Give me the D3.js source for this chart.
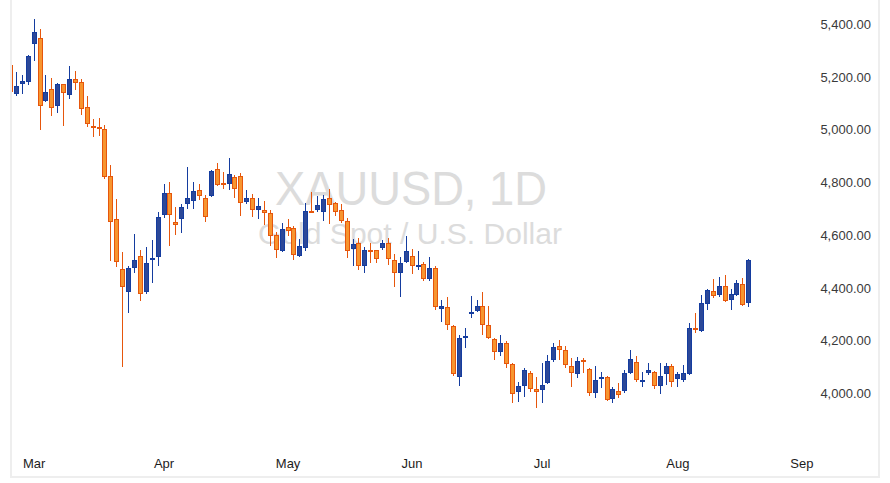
<!DOCTYPE html>
<html><head><meta charset="utf-8">
<script src="https://cdn.jsdelivr.net/npm/d3@7"></script>
<style>html,body{margin:0;padding:0;background:#fff;overflow:hidden}</style>
</head><body><svg id="c" width="890" height="483"></svg>
<script>
// ---- data ----
const dates = [
"2026-02-24","2026-02-25","2026-02-26","2026-02-27",
"2026-03-02","2026-03-03","2026-03-04","2026-03-05","2026-03-06","2026-03-09","2026-03-10","2026-03-11","2026-03-12","2026-03-13",
"2026-03-16","2026-03-17","2026-03-18","2026-03-19","2026-03-20","2026-03-23","2026-03-24","2026-03-25","2026-03-26","2026-03-27","2026-03-30","2026-03-31",
"2026-04-01","2026-04-02","2026-04-06","2026-04-07","2026-04-08","2026-04-09","2026-04-10","2026-04-13","2026-04-14","2026-04-15","2026-04-16","2026-04-17",
"2026-04-20","2026-04-21","2026-04-22","2026-04-23","2026-04-24","2026-04-27","2026-04-28","2026-04-29","2026-04-30",
"2026-05-01","2026-05-04","2026-05-05","2026-05-06","2026-05-07","2026-05-08","2026-05-11","2026-05-12","2026-05-13","2026-05-14","2026-05-15",
"2026-05-18","2026-05-19","2026-05-20","2026-05-21","2026-05-22","2026-05-25","2026-05-26","2026-05-27","2026-05-28","2026-05-29",
"2026-06-01","2026-06-02","2026-06-03","2026-06-04","2026-06-05","2026-06-08","2026-06-09","2026-06-10","2026-06-11","2026-06-12",
"2026-06-15","2026-06-16","2026-06-17","2026-06-18","2026-06-19","2026-06-22","2026-06-23","2026-06-24","2026-06-25","2026-06-26","2026-06-29","2026-06-30",
"2026-07-01","2026-07-02","2026-07-03","2026-07-06","2026-07-07","2026-07-08","2026-07-09","2026-07-10","2026-07-13","2026-07-14","2026-07-15","2026-07-16","2026-07-17",
"2026-07-20","2026-07-21","2026-07-22","2026-07-23","2026-07-24","2026-07-27","2026-07-28","2026-07-29","2026-07-30","2026-07-31",
"2026-08-03","2026-08-04","2026-08-05","2026-08-06","2026-08-07","2026-08-10","2026-08-11","2026-08-12","2026-08-13","2026-08-14","2026-08-17","2026-08-18","2026-08-19"
];
// empty future trading-day slots on the time axis (no candles)
const futureDates = ["2026-08-20","2026-08-21","2026-08-24","2026-08-25","2026-08-26","2026-08-27","2026-08-28","2026-08-31","2026-09-01"];

const open = [5244,5133,5171,5181,
5323,5346,5107,5152,5088,5171,5129,5190,5179,5084,
5012,5008,5000,4822,4659,4469,4382,4473,4519,4384,4509,4515,
4674,4758,4648,4659,4716,4727,4769,4739,4746,4849,4796,4792,
4818,4822,4724,4739,4693,4693,4682,4598,4538,
4629,4625,4519,4549,4690,4693,4686,4739,4720,4693,4651,
4545,4568,4481,4542,4541,4549,4568,4503,4454,4496,
4519,4481,4488,4431,4473,4318,4325,4253,4060,4207,
4299,4310,4329,4257,4204,4155,4189,4109,4003,4025,4075,4014,
4010,4037,4124,4177,4162,4101,4071,4124,4090,3999,4052,4060,3976,
4006,4006,4075,4117,4044,4075,4079,4025,4071,4101,
4052,4048,4071,4245,4234,4337,4386,4371,4405,4352,4371,4412,4340];
const high = [5250,5218,5207,5282,
5419,5381,5207,5195,5176,5173,5241,5222,5190,5126,
5038,5042,5017,4865,4736,4535,4482,4603,4541,4554,4580,4686,
4793,4801,4704,4716,4856,4801,4793,4750,4845,4871,4837,4890,
4826,4833,4769,4754,4739,4727,4693,4610,4644,
4659,4633,4583,4720,4761,4746,4750,4773,4724,4716,4663,
4583,4587,4553,4568,4543,4579,4587,4526,4515,4595,
4545,4538,4496,4515,4481,4352,4363,4257,4219,4245,
4367,4352,4382,4329,4208,4219,4196,4113,4042,4094,4082,4060,
4113,4143,4189,4200,4177,4132,4136,4132,4094,4101,4079,4063,4022,
4037,4086,4162,4139,4079,4113,4082,4113,4113,4109,
4079,4105,4264,4302,4371,4393,4431,4439,4447,4393,4428,4435,4507];
const low = [5140,5128,5133,5170,
5261,4999,5104,5051,5063,5014,5117,5151,5056,5010,
4970,4976,4811,4502,4479,4100,4305,4456,4350,4377,4418,4483,
4663,4557,4601,4608,4699,4699,4731,4648,4743,4784,4773,4769,
4739,4670,4716,4667,4659,4636,4557,4511,4534,
4595,4504,4515,4540,4684,4686,4651,4640,4670,4644,4511,
4481,4466,4454,4492,4492,4541,4485,4403,4365,4492,
4450,4466,4424,4424,4314,4268,4238,4065,4025,4170,
4283,4306,4219,4204,4124,4139,4094,3961,3965,3984,4003,3942,
3961,4033,4117,4124,4094,4022,4056,4075,3988,3980,4018,3969,3961,
3980,3999,4071,4041,4022,4067,4014,3995,4029,4022,
4022,4041,4067,4226,4230,4314,4359,4363,4344,4314,4367,4329,4325];
const close = [5143,5164,5184,5277,
5369,5088,5141,5080,5171,5137,5190,5175,5076,5019,
5004,5003,4818,4648,4496,4403,4473,4503,4374,4492,4513,4667,
4758,4674,4636,4705,4739,4765,4746,4667,4841,4788,4788,4830,
4773,4720,4739,4693,4708,4682,4595,4541,4621,
4614,4522,4557,4689,4686,4712,4735,4712,4686,4651,4538,
4564,4481,4541,4540,4507,4568,4507,4454,4492,4538,
4481,4485,4431,4473,4325,4329,4257,4071,4207,4215,
4306,4329,4257,4208,4155,4189,4109,3995,4025,4086,4014,4003,
4029,4120,4173,4162,4105,4075,4120,4117,3999,4048,4060,3972,4014,
3991,4075,4128,4048,4048,4086,4025,4063,4101,4041,
4071,4075,4245,4238,4340,4390,4367,4405,4348,4375,4416,4333,4503];

const monthLabels = ["Mar","Apr","May","Jun","Jul","Aug","Sep"];
const monthTickDates = ["2026-03-02","2026-04-01","2026-05-01","2026-06-01","2026-07-01","2026-08-03","2026-09-01"];
const yTickValues = [4000,4200,4400,4600,4800,5000,5200,5400];
const titleText = "XAUUSD, 1D";
const subtitleText = "Gold Spot / U.S. Dollar";

// ---- chart ----
const svg = d3.select("#c");
const W = 890, H = 483;
const FONT = "'Liberation Sans', Arial, sans-serif";
const UP_FILL = "#2c4898", UP_LINE = "#143c9f";
const DN_FILL = "#f7952f", DN_LINE = "#e6560c";

const slots = dates.concat(futureDates);
const x = d3.scalePoint().domain(slots).range([10, 10 + (slots.length - 1) * 5.906]);
const y = d3.scaleLinear().domain([4000, 5400]).range([393, 24]);

// watermark
const wm = svg.append("g").attr("fill", "#dcdcdc").attr("font-family", FONT).attr("text-anchor", "middle");
wm.append("text").attr("x", 411).attr("y", 205).attr("font-size", 48)
  .attr("textLength", 272).attr("lengthAdjust", "spacingAndGlyphs").text(titleText);
wm.append("text").attr("x", 410).attr("y", 244).attr("font-size", 29)
  .attr("textLength", 304).attr("lengthAdjust", "spacingAndGlyphs").text(subtitleText);

// clip
svg.append("clipPath").attr("id", "plot").append("rect")
  .attr("x", 11).attr("y", 0).attr("width", 800).attr("height", 476);

const candles = dates.map((d, i) => ({d, o: open[i], h: high[i], l: low[i], c: close[i]}));
const g = svg.append("g").attr("clip-path", "url(#plot)").attr("shape-rendering", "crispEdges");
const cg = g.selectAll("g.c").data(candles).join("g").attr("class", "c");
cg.append("line")
  .attr("x1", d => Math.round(x(d.d)) + 0.5).attr("x2", d => Math.round(x(d.d)) + 0.5)
  .attr("y1", d => Math.round(y(d.h))).attr("y2", d => Math.round(y(d.l)))
  .attr("stroke", d => d.c >= d.o ? UP_LINE : DN_LINE).attr("stroke-width", 1);
cg.append("rect")
  .attr("x", d => Math.round(x(d.d)) - 1.5)
  .attr("width", 4)
  .attr("y", d => Math.round(y(Math.max(d.o, d.c))) + 0.5)
  .attr("height", d => Math.max(1, Math.round(y(Math.min(d.o, d.c))) - Math.round(y(Math.max(d.o, d.c))) - 1))
  .attr("fill", d => d.c >= d.o ? UP_FILL : DN_FILL)
  .attr("stroke", d => d.c >= d.o ? UP_LINE : DN_LINE).attr("stroke-width", 1);

// y axis (right)
const ya = svg.append("g").call(d3.axisRight(y).tickValues(yTickValues).tickFormat(d3.format(",.2f")).tickSize(0));
ya.select(".domain").remove();
ya.selectAll("text").attr("x", 871).attr("text-anchor", "end").attr("dy", "0.35em")
  .attr("font-family", FONT).attr("font-size", 13).attr("fill", "#3a3a3a");

// x axis (bottom)
const xa = svg.append("g").attr("transform", "translate(0,468)")
  .call(d3.axisBottom(x).tickValues(monthTickDates).tickFormat((d, i) => monthLabels[i]).tickSize(0));
xa.select(".domain").remove();
xa.selectAll("text").attr("y", 0).attr("dy", 0)
  .attr("font-family", FONT).attr("font-size", 13).attr("fill", "#1c1c1c");

// frame
const fr = svg.append("g").attr("stroke", "#eeeeee").attr("stroke-width", 2).attr("fill", "none");
fr.append("line").attr("x1", 11).attr("x2", 11).attr("y1", 0).attr("y2", 478);
fr.append("line").attr("x1", 10).attr("x2", 880).attr("y1", 477).attr("y2", 477);
fr.append("line").attr("x1", 879).attr("x2", 879).attr("y1", 0).attr("y2", 478);
</script></body></html>
